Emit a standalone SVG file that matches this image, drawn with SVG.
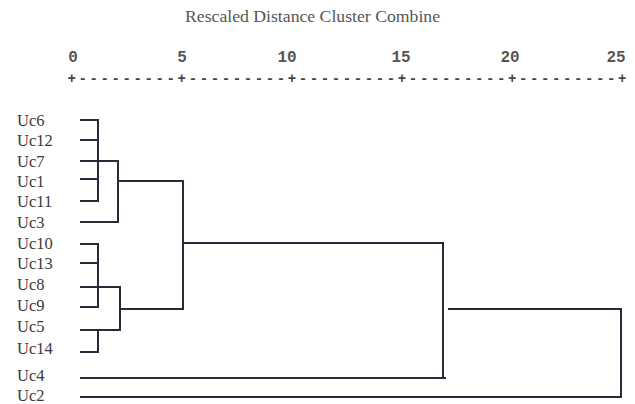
<svg xmlns="http://www.w3.org/2000/svg" width="635" height="404" viewBox="0 0 635 404">
<style>
.title{font-family:"Liberation Serif",serif;font-size:16px;fill:#555}
.axis{font-family:"Liberation Mono",monospace;font-size:16px;font-weight:bold;fill:#555;text-anchor:middle}
.ruler{font-family:"Liberation Mono",monospace;font-size:14px;font-weight:bold;fill:#444}
.lbl{font-family:"Liberation Serif",serif;font-size:16.5px;fill:#3a3a3a}
.c line{stroke:#2a2a3a;stroke-width:2;fill:none;stroke-linecap:square}
</style>
<rect width="635" height="404" fill="#fff"/>
<text class="title" x="185" y="22" textLength="255" lengthAdjust="spacingAndGlyphs">Rescaled Distance Cluster Combine</text>
<g id="axis">
<text class="axis" x="73" y="62">0</text>
<text class="axis" x="182" y="62">5</text>
<text class="axis" x="287" y="62">10</text>
<text class="axis" x="401" y="62">15</text>
<text class="axis" x="510" y="62">20</text>
<text class="axis" x="616" y="62">25</text>
<text class="ruler" x="67.5" y="83" textLength="559" lengthAdjust="spacing">+---------+---------+---------+---------+---------+</text>
</g>
<g id="node-Uc6"><text class="lbl" x="17" y="126">Uc6</text></g>
<g id="node-Uc12"><text class="lbl" x="17" y="146">Uc12</text></g>
<g id="node-Uc7"><text class="lbl" x="17" y="167">Uc7</text></g>
<g id="node-Uc1"><text class="lbl" x="17" y="187">Uc1</text></g>
<g id="node-Uc11"><text class="lbl" x="17" y="207">Uc11</text></g>
<g id="node-Uc3"><text class="lbl" x="17" y="228">Uc3</text></g>
<g id="node-Uc10"><text class="lbl" x="17" y="249">Uc10</text></g>
<g id="node-Uc13"><text class="lbl" x="17" y="269">Uc13</text></g>
<g id="node-Uc8"><text class="lbl" x="17" y="290">Uc8</text></g>
<g id="node-Uc9"><text class="lbl" x="17" y="311">Uc9</text></g>
<g id="node-Uc5"><text class="lbl" x="17" y="332">Uc5</text></g>
<g id="node-Uc14"><text class="lbl" x="17" y="354">Uc14</text></g>
<g id="node-Uc4"><text class="lbl" x="17" y="381">Uc4</text></g>
<g id="node-Uc2"><text class="lbl" x="17" y="401">Uc2</text></g>
<g id="connectors" class="c">
<line x1="81" y1="120" x2="98" y2="120"/>
<line x1="81" y1="140" x2="98" y2="140"/>
<line x1="81" y1="161" x2="118" y2="161"/>
<line x1="81" y1="179" x2="98" y2="179"/>
<line x1="81" y1="201" x2="98" y2="201"/>
<line x1="98" y1="120" x2="98" y2="201"/>
<line x1="81" y1="222" x2="118" y2="222"/>
<line x1="118" y1="161" x2="118" y2="222"/>
<line x1="118" y1="181" x2="183" y2="181"/>
<line x1="183" y1="181" x2="183" y2="309"/>
<line x1="183" y1="243" x2="443" y2="243"/>
<line x1="81" y1="244" x2="98" y2="244"/>
<line x1="81" y1="263" x2="98" y2="263"/>
<line x1="81" y1="287" x2="120" y2="287"/>
<line x1="81" y1="307" x2="98" y2="307"/>
<line x1="98" y1="244" x2="98" y2="307"/>
<line x1="81" y1="330" x2="120" y2="330"/>
<line x1="81" y1="352" x2="98" y2="352"/>
<line x1="98" y1="330" x2="98" y2="352"/>
<line x1="120" y1="287" x2="120" y2="330"/>
<line x1="120" y1="309" x2="183" y2="309"/>
<line x1="81" y1="378" x2="445" y2="378"/>
<line x1="443" y1="243" x2="443" y2="378"/>
<line x1="449" y1="309" x2="621" y2="309"/>
<line x1="621" y1="309" x2="621" y2="397"/>
<line x1="81" y1="397" x2="621" y2="397"/>
</g>
</svg>
